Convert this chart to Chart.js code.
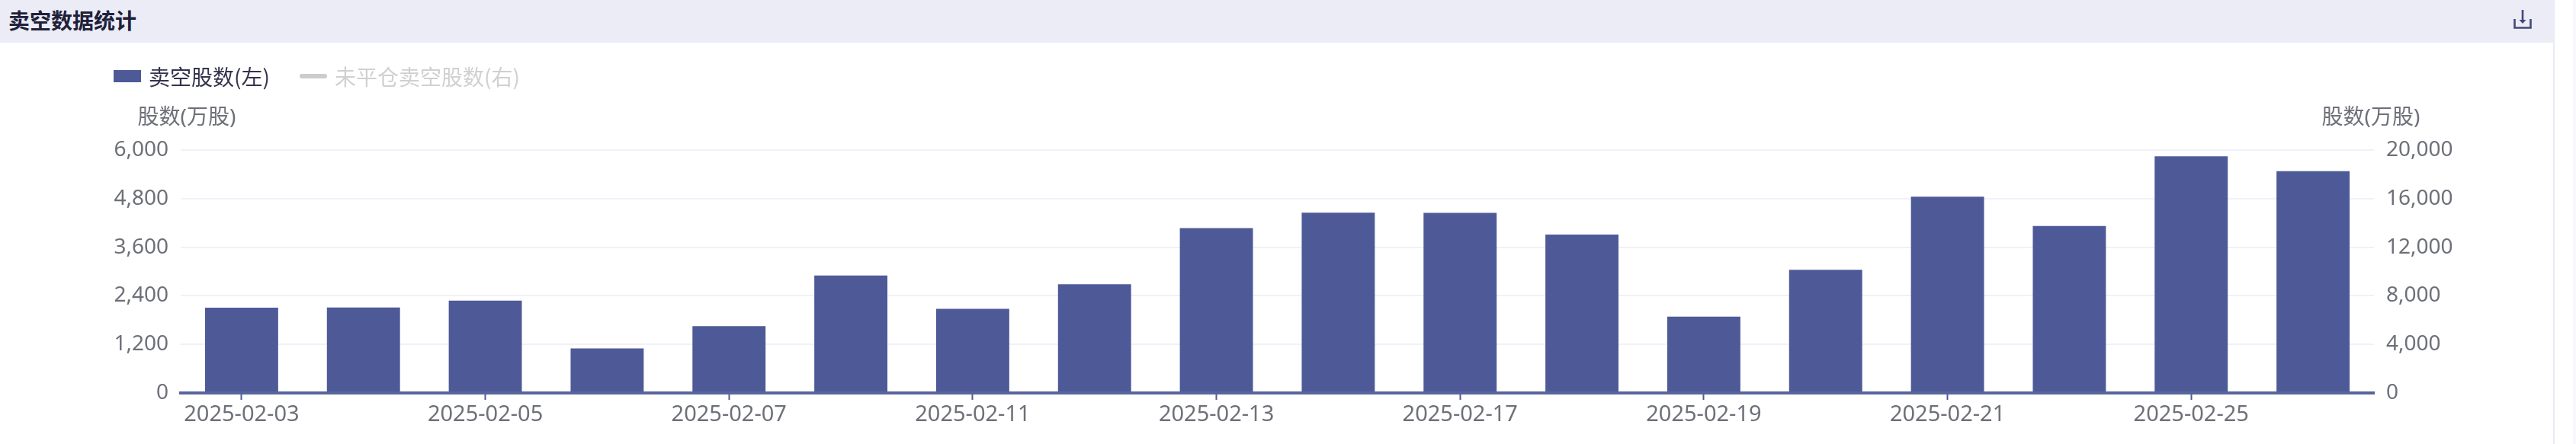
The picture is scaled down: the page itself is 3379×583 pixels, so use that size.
<!DOCTYPE html>
<html>
<head>
<meta charset="utf-8">
<style>
  html, body { margin: 0; padding: 0; width: 3379px; height: 583px; background: #fff; overflow: hidden; }
  body { font-family: "Noto Sans", "Noto Sans CJK SC", sans-serif; position: relative; }
  .side { position: absolute; left: 3375px; top: 0; width: 4px; height: 583px; background: #f8f8fc; }
  .panel-line { position: absolute; left: 3349px; top: 56px; width: 2px; height: 527px; background: #e9e9f7; }
  .head { position: absolute; left: 0; top: 0; width: 3351px; height: 56px; background: #ebecf5; }
  .head .title { position: absolute; left: 11px; top: 6px; font: bold 28px/40px "Noto Sans CJK SC", sans-serif; color: #20203a; }
  .head svg { position: absolute; left: 3297px; top: 12px; }
  #chart { position: absolute; left: 0; top: 0; }
  .legend { position: absolute; left: 149px; top: 80px; height: 40px; display: flex; align-items: center; font: 28px/40px "Noto Sans CJK SC", sans-serif; color: #33334d; white-space: nowrap; }
  .legend .item { display: flex; align-items: center; margin-right: 39px; }
  .legend .mark { width: 36px; margin-right: 10px; }
  .legend .bar { height: 16px; }
  .legend .line { height: 6px; border-radius: 3px; }
  .legend .off { color: #d0d0d0; }
</style>
</head>
<body>
<div class="head">
  <div class="title">卖空数据统计</div>
  <svg width="24" height="26" viewBox="0 0 24 26" fill="none" stroke="#44497a" stroke-width="2.6">
    <path d="M1.5 13V24.5H22.5V13"/>
    <path d="M12 1V17"/>
    <path d="M7.5 14L12 19L16.5 14Z" fill="#44497a" stroke="none"/>
  </svg>
</div>
<div class="panel-line"></div>
<div class="side"></div>
<canvas id="chart" width="3379" height="583"></canvas>
<div class="legend"></div>
<script src="https://cdn.jsdelivr.net/npm/chart.js@4"></script>
<script>
const dates = [
  "2025-02-03", "2025-02-04", "2025-02-05", "2025-02-06", "2025-02-07", "2025-02-10",
  "2025-02-11", "2025-02-12", "2025-02-13", "2025-02-14", "2025-02-17", "2025-02-18",
  "2025-02-19", "2025-02-20", "2025-02-21", "2025-02-24", "2025-02-25", "2025-02-26",
];
const shortShares = [
  2105, 2111, 2281, 1100, 1652, 2903, 2080, 2683, 4071,
  4455, 4448, 3914, 1885, 3041, 4850, 4122, 5843, 5479,
];
// switched off in the legend, so nothing of it can be read
const openShortShares = [];
const leftTicks = [0, 1200, 2400, 3600, 4800, 6000];
const rightTicks = [0, 4000, 8000, 12000, 16000, 20000];
const seriesNames = ["卖空股数(左)", "未平仓卖空股数(右)"];
const axisName = "股数(万股)";

const barColor = "#4e5a98";
const tickColor = "#6e7079";
const gridColor = "#f1f1f9";
const font = "'Noto Sans', 'Noto Sans CJK SC', sans-serif";

const axisNames = {
  id: "axisNames",
  afterDraw: (chart) => {
    const { ctx, scales } = chart;
    ctx.save();
    ctx.font = "28px " + font;
    ctx.fillStyle = tickColor;
    ctx.textAlign = "center";
    ctx.textBaseline = "middle";
    ctx.fillText(axisName, scales.y.right + 8, 155);
    ctx.fillText(axisName, scales.y1.left - 4, 155);
    ctx.restore();
  },
};

const valueAxis = (position, ticks, width) => ({
  position,
  min: ticks[0],
  max: ticks[ticks.length - 1],
  afterBuildTicks: (axis) => {
    axis.ticks = ticks.map((value) => ({ value }));
  },
  afterFit: (axis) => {
    axis.width = width;
  },
  border: { display: false },
  grid: {
    display: position === "left",
    color: gridColor,
    lineWidth: 2,
    drawTicks: false,
  },
  ticks: {
    padding: 16,
    color: tickColor,
    font: { family: font, size: 28 },
    callback: (value) => value.toLocaleString("en-US"),
  },
});

const chart = new Chart(document.getElementById("chart"), {
  type: "bar",
  data: {
    labels: dates,
    datasets: [
      {
        label: seriesNames[0],
        data: shortShares,
        backgroundColor: barColor,
        barPercentage: 0.6,
        categoryPercentage: 1,
        yAxisID: "y",
      },
      {
        type: "line",
        label: seriesNames[1],
        data: openShortShares,
        borderColor: "#cccccc",
        hidden: true,
        yAxisID: "y1",
      },
    ],
  },
  options: {
    responsive: false,
    animation: false,
    events: [],
    layout: { padding: { left: 149, right: 145, top: 197, bottom: 0 } },
    plugins: { legend: { display: false }, tooltip: { enabled: false } },
    scales: {
      x: {
        afterFit: (axis) => {
          axis.height = 67;
        },
        border: { display: true, color: "#58659c", width: 4, z: 1 },
        grid: {
          offset: false,
          drawOnChartArea: false,
          drawTicks: true,
          tickLength: 9,
          tickWidth: 2,
          tickColor: barColor,
        },
        ticks: {
          autoSkip: true,
          maxTicksLimit: 9,
          maxRotation: 0,
          padding: 2,
          color: tickColor,
          font: { family: font, size: 29 },
        },
      },
      y: valueAxis("left", leftTicks, 88),
      y1: valueAxis("right", rightTicks, 120),
    },
  },
  plugins: [axisNames],
});

const legend = document.querySelector(".legend");
chart.data.datasets.forEach((dataset) => {
  const off = dataset.hidden;
  const swatch = off
    ? `<span class="mark line" style="background-color: ${dataset.borderColor}"></span>`
    : `<span class="mark bar" style="background-color: ${dataset.backgroundColor}"></span>`;
  legend.insertAdjacentHTML(
    "beforeend",
    `<div class="item">${swatch}<span class="${off ? "off" : ""}">${dataset.label}</span></div>`
  );
});
</script>
</body>
</html>
